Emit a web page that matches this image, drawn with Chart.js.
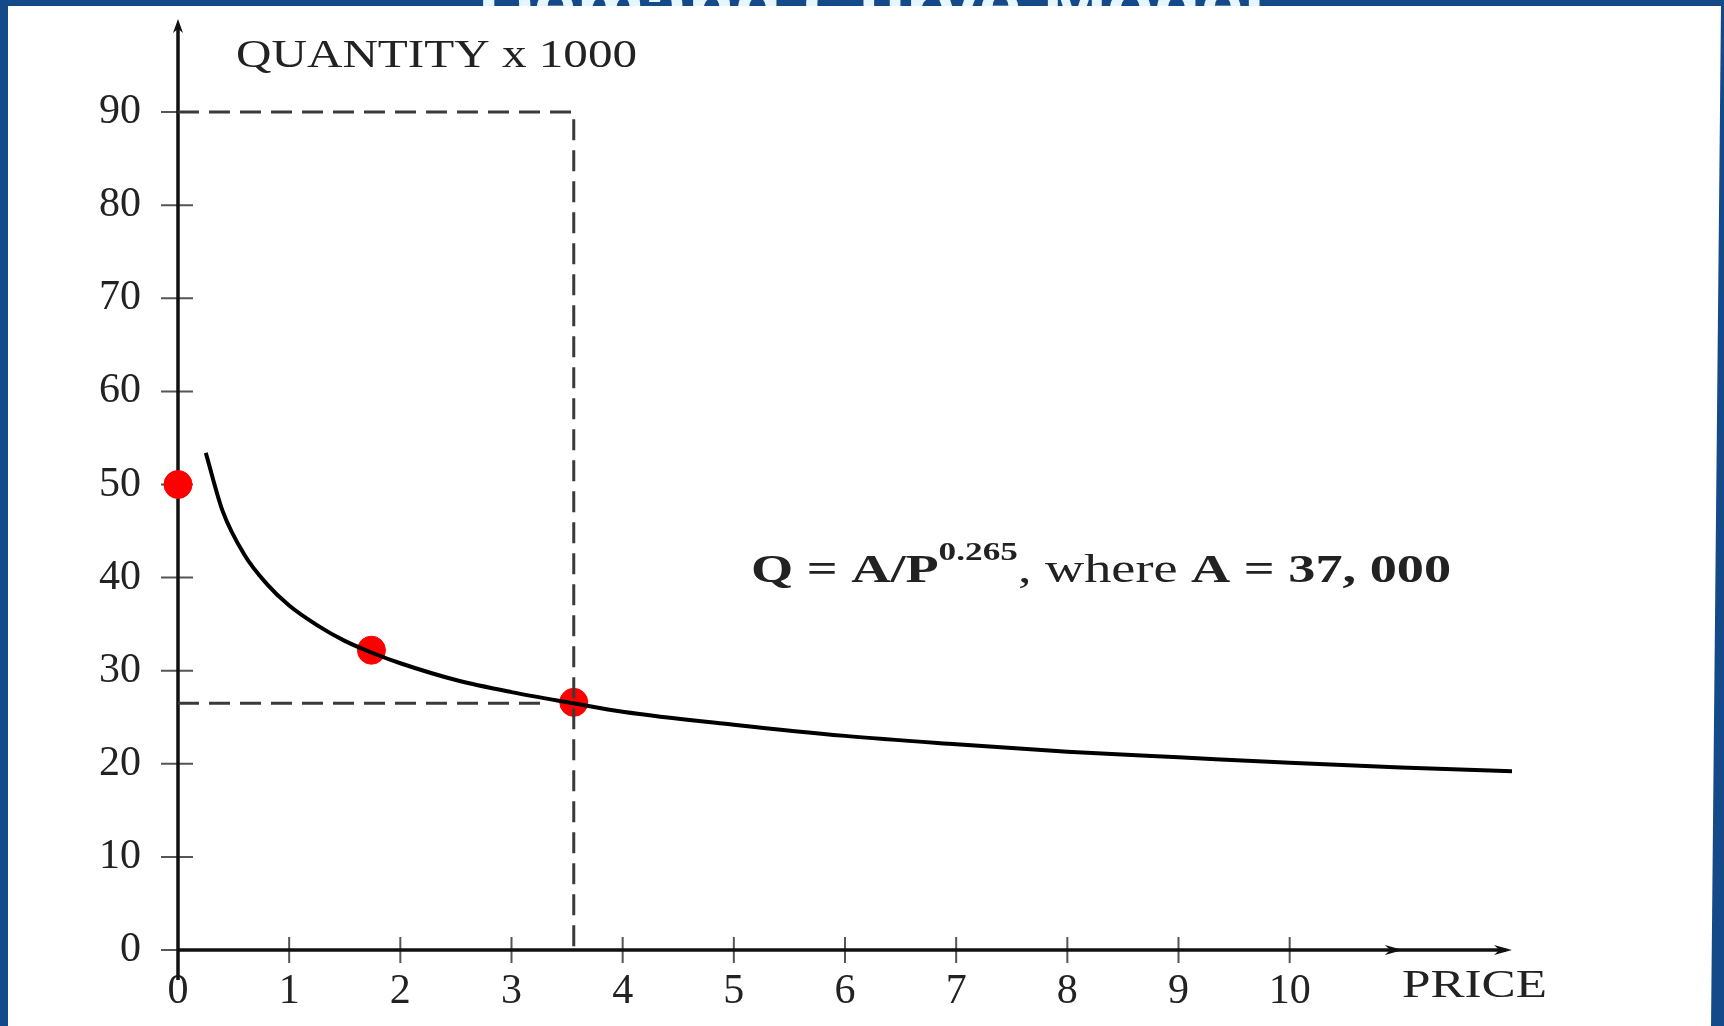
<!DOCTYPE html>
<html>
<head>
<meta charset="utf-8">
<script src="https://cdn.jsdelivr.net/npm/chart.js@4.4.1/dist/chart.umd.min.js"></script>
<style>
    html, body { margin: 0; padding: 0; background: #144a8a; }
    #contenedor { width: 1724px; height: 1026px; }
</style>
</head>
<body>
<div id="contenedor"><canvas id="grafico"></canvas></div>
<script>
// curva de demanda (precio, cantidad x 1000)
var precioCurva = [0.25, 0.4, 0.6, 0.8, 1, 1.25, 1.5, 1.75, 2, 2.5, 3, 3.56, 4, 5, 6, 7, 8, 9, 10, 11, 12];
var cantidadCurva = [53.4, 47.2, 42.4, 39.3, 37.0, 34.9, 33.2, 31.9, 30.8, 29.0, 27.7, 26.5, 25.6, 24.2, 23.0, 22.1, 21.3, 20.7, 20.1, 19.6, 19.2];

// puntos rojos
var precioPuntos = [0, 1.74, 3.56];
var cantidadPuntos = [50, 32.2, 26.6];

// lineas punteadas
var precioCorte = 3.56;
var cantidadCorte = 26.5;
var finCorteHorizontal = 3.3;
var cantidadTope = 90;

var ticksPrecio = [0, 1, 2, 3, 4, 5, 6, 7, 8, 9, 10];
var ticksCantidad = [0, 10, 20, 30, 40, 50, 60, 70, 80, 90];

var fuenteSerif = '"Liberation Serif", "DejaVu Serif", serif';

function pares(xs, ys) {
    return xs.map(function (x, i) { return { x: x, y: ys[i] }; });
}

// texto estirado a un ancho dado
function textoAncho(ctx, texto, x, y, ancho, fuente) {
    ctx.save();
    ctx.font = fuente;
    var w = ctx.measureText(texto).width;
    ctx.translate(x, y);
    ctx.scale(ancho / w, 1);
    ctx.fillText(texto, 0, 0);
    ctx.restore();
}

function flecha(ctx, x, y, dx, dy, largo, medio) {
    // punta en (x, y), direccion (dx, dy)
    var px = -dy, py = dx;
    ctx.beginPath();
    ctx.moveTo(x, y);
    ctx.lineTo(x - dx * largo + px * medio, y - dy * largo + py * medio);
    ctx.lineTo(x - dx * largo * 0.7, y - dy * largo * 0.7);
    ctx.lineTo(x - dx * largo - px * medio, y - dy * largo - py * medio);
    ctx.closePath();
    ctx.fill();
}

var fondo = {
    id: 'fondo',
    beforeDraw: function (chart) {
        var ctx = chart.ctx;
        ctx.save();
        ctx.fillStyle = '#144a8a';
        ctx.fillRect(0, 0, chart.width, chart.height);
        // titulo cortado arriba
        ctx.fillStyle = '#e6f6ff';
        ctx.textBaseline = 'alphabetic';
        textoAncho(ctx, 'Demand Curve Model', 478, 30, 787, 'bold 74px "Liberation Sans Narrow", "Liberation Sans", sans-serif');
        ctx.fillStyle = '#ffffff';
        ctx.beginPath();
        ctx.moveTo(8, 6);
        ctx.lineTo(1721, 6);
        ctx.lineTo(1711, 1026);
        ctx.lineTo(8, 1026);
        ctx.closePath();
        ctx.fill();
        ctx.restore();
    }
};

var ejes = {
    id: 'ejes',
    beforeDatasetsDraw: function (chart) {
        var ctx = chart.ctx;
        var sx = chart.scales.x, sy = chart.scales.y;
        var x0 = sx.getPixelForValue(0), y0 = sy.getPixelForValue(0);
        var xFin = sx.getPixelForValue(12), yFin = sy.getPixelForValue(100);
        ctx.save();

        // marcas
        ctx.strokeStyle = '#555';
        ctx.lineWidth = 2;
        ctx.beginPath();
        ticksCantidad.forEach(function (v) {
            var y = sy.getPixelForValue(v);
            ctx.moveTo(x0 - 17, y);
            ctx.lineTo(x0 + (v === 0 ? 0 : 15), y);
        });
        ticksPrecio.forEach(function (v) {
            if (v === 0) return;
            var x = sx.getPixelForValue(v);
            ctx.moveTo(x, y0 - 13);
            ctx.lineTo(x, y0 + 13);
        });
        ctx.stroke();

        // ejes
        ctx.strokeStyle = '#111';
        ctx.lineWidth = 3.5;
        ctx.beginPath();
        ctx.moveTo(x0, y0 + 30);
        ctx.lineTo(x0, yFin + 6);
        ctx.moveTo(x0, y0);
        ctx.lineTo(xFin - 6, y0);
        ctx.stroke();

        ctx.fillStyle = '#111';
        flecha(ctx, x0, yFin, 0, -1, 14, 5);
        flecha(ctx, xFin, y0, 1, 0, 18, 5);
        flecha(ctx, sx.getPixelForValue(11.0) + 2, y0, 1, 0, 18, 5);

        // textos
        ctx.fillStyle = '#222';
        ctx.textBaseline = 'alphabetic';
        textoAncho(ctx, 'QUANTITY x 1000', 236, 67, 401, '40px ' + fuenteSerif);
        textoAncho(ctx, 'PRICE', 1402, 997, 145, '40px ' + fuenteSerif);

        // ecuacion
        var partes = [
            { t: 'Q = A/P', f: 'bold 40px ' + fuenteSerif, dy: 0 },
            { t: '0.265', f: 'bold 26px ' + fuenteSerif, dy: -22 },
            { t: ', where ', f: '40px ' + fuenteSerif, dy: 0 },
            { t: 'A = 37, 000', f: 'bold 40px ' + fuenteSerif, dy: 0 }
        ];
        var total = 0;
        partes.forEach(function (p) { ctx.font = p.f; p.w = ctx.measureText(p.t).width; total += p.w; });
        var escala = 700 / total;
        var xe = 751;
        partes.forEach(function (p) {
            textoAncho(ctx, p.t, xe, 582 + p.dy, p.w * escala, p.f);
            xe += p.w * escala;
        });
        ctx.restore();
    }
};

var lineaPunteada = {
    borderColor: '#3a3a3a',
    borderWidth: 3,
    borderDash: [21, 10],
    pointRadius: 0,
    fill: false,
    tension: 0
};

ctx = document.getElementById('grafico').getContext('2d');
myChart = new Chart(ctx, {
    type: 'line',
    data: {
        datasets: [
            Object.assign({
                label: 'tope',
                data: [{ x: 0, y: cantidadTope }, { x: precioCorte, y: cantidadTope }, { x: precioCorte, y: 0 }]
            }, lineaPunteada),
            Object.assign({
                label: 'corte',
                data: [{ x: 0, y: cantidadCorte }, { x: finCorteHorizontal, y: cantidadCorte }]
            }, lineaPunteada),
            {
                label: 'demanda',
                data: pares(precioCurva, cantidadCurva),
                borderColor: '#000',
                borderWidth: 4,
                pointRadius: 0,
                cubicInterpolationMode: 'monotone',
                fill: false
            },
            {
                type: 'scatter',
                label: 'puntos',
                data: pares(precioPuntos, cantidadPuntos),
                backgroundColor: '#ff0000',
                borderColor: '#ff0000',
                pointRadius: 14,
                pointHoverRadius: 14,
                clip: false
            }
        ]
    },
    options: {
        responsive: true,
        maintainAspectRatio: false,
        animation: false,
        events: [],
        layout: { padding: { top: 19, right: 212, left: 0, bottom: 0 } },
        plugins: {
            legend: { display: false },
            title: { display: false },
            tooltip: { enabled: false }
        },
        scales: {
            x: {
                type: 'linear',
                min: 0,
                max: 12,
                afterFit: function (scale) {
                    scale.height = 76;
                    scale.paddingLeft = 0;
                    scale.paddingRight = 0;
                },
                grid: { display: false, drawTicks: false },
                border: { display: false },
                ticks: {
                    stepSize: 1,
                    autoSkip: false,
                    maxRotation: 0,
                    padding: 17,
                    color: '#222',
                    font: { family: fuenteSerif, size: 42 },
                    callback: function (v) { return ticksPrecio.indexOf(v) >= 0 ? String(v) : ''; }
                }
            },
            y: {
                type: 'linear',
                min: 0,
                max: 100,
                afterFit: function (scale) {
                    scale.width = 178;
                    scale.paddingTop = 0;
                    scale.paddingBottom = 0;
                },
                grid: { display: false, drawTicks: false },
                border: { display: false },
                ticks: {
                    stepSize: 10,
                    autoSkip: false,
                    padding: 37,
                    color: '#222',
                    font: { family: fuenteSerif, size: 42 },
                    callback: function (v) { return ticksCantidad.indexOf(v) >= 0 ? String(v) : ''; }
                }
            }
        }
    },
    plugins: [fondo, ejes]
});
</script>
</body>
</html>
